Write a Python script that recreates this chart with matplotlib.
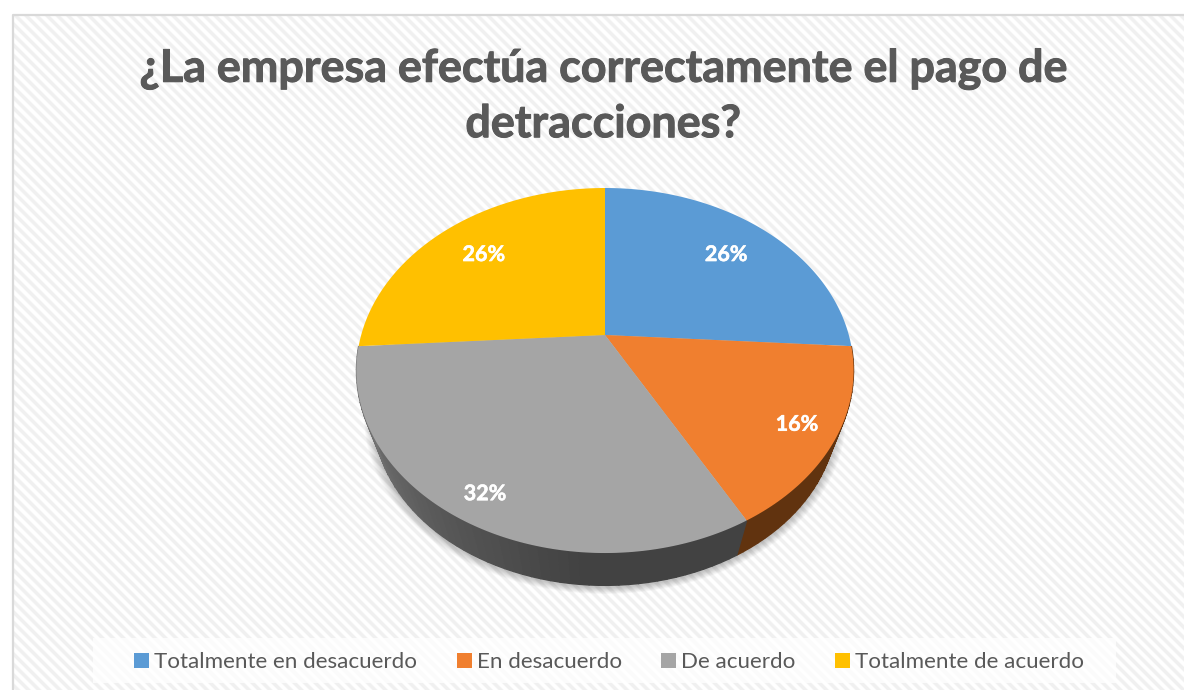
import numpy as np
import matplotlib
matplotlib.use('Agg')
import matplotlib.pyplot as plt
from matplotlib.patches import Patch, Rectangle
import matplotlib.patheffects as pe

categorias = ['Totalmente en desacuerdo', 'En desacuerdo', 'De acuerdo', 'Totalmente de acuerdo']
valores = [26, 16, 32, 26]
etiquetas = ['26%', '16%', '32%', '26%']
colores = ['#5B9BD5', '#F07F2F', '#A5A5A5', '#FFC000']
titulo = '¿La empresa efectúa correctamente el pago de\ndetracciones?'

# distancia de cada etiqueta al centro (fraccion del radio)
radio_etiqueta = [0.75, 0.85, 0.87, 0.75]

W, H = 1184, 690
cx, cy = 605, 335
a, b, k = 243.8, 175.6, 0.1946   # proyeccion del disco
s, yv = 0.93, 1015               # disco inferior

plt.rcParams['font.family'] = ['Lato', 'DejaVu Sans']


def disco(ang, r=1.0):
    # angulo en grados desde arriba, sentido horario
    t = np.radians(ang)
    u, v = r * np.sin(t), r * np.cos(t)
    w = 1 + k * v
    return cx + a * u / w, cy - b * v / w


def disco_abajo(ang):
    x, y = disco(ang)
    return cx + s * (x - cx), yv + s * (y - yv)


fig = plt.figure(figsize=(W / 100, H / 100), dpi=100)
ax = fig.add_axes([0, 0, 1, 1])
ax.set_xlim(0, W)
ax.set_ylim(H, 0)
ax.axis('off')

# fondo rayado
xx, yy = np.meshgrid(np.arange(W), np.arange(H))
rayas = 0.5 + 0.5 * np.cos(2 * np.pi * (xx - yy) / 10.5)
fondo = 1 - 0.06 * np.clip(rayas * 1.6 - 0.3, 0, 1)
fondo = np.where((xx > 13) & (yy > 15), fondo, 1.0)
ax.imshow(fondo, cmap='gray', vmin=0, vmax=1, extent=(0, W, H, 0), zorder=0, aspect='auto')
ax.plot([12.5, 12.5, W], [H, 14.5, 14.5], color='#D9D9D9', lw=1.6, zorder=1)

# sombra
todo = np.linspace(0, 360, 361)
for i in range(10, 0, -1):
    x, y = disco_abajo(todo)
    f = 1 + i * 0.0042
    ax.fill(cx + (x - cx) * f, (y - 416) * f + 416 + 1.5, color='black', alpha=0.022, lw=0, zorder=2)

# pared lateral (solo se ven las porciones 2 y 3) y cara superior
angulos = np.cumsum([0] + valores) * 3.6
for i in [1, 2]:
    ini, fin = angulos[i], angulos[i + 1]
    pasos = np.arange(ini, fin + 1, 2.0)
    pasos[-1] = fin
    for p, q in zip(pasos[:-1], pasos[1:]):
        x1, y1 = disco(np.array([p, q]))
        x2, y2 = disco_abajo(np.array([q, p]))
        if i == 2:
            g = np.interp((p + q) / 2, [151, 185, 210, 240, 266], [0.26, 0.26, 0.33, 0.42, 0.5])
            col = (g, g, g)
        else:
            col = '#61330F'
        ax.fill(np.r_[x1, x2], np.r_[y1, y2], color=col, lw=1, zorder=3)

for i in range(len(valores)):
    arco = np.linspace(angulos[i], angulos[i + 1], 200)
    x, y = disco(arco)
    ax.fill(np.r_[cx, x], np.r_[cy, y], color=colores[i], lw=0, zorder=4)
    medio = (angulos[i] + angulos[i + 1]) / 2
    tx, ty = disco(medio, radio_etiqueta[i])
    ax.text(tx, ty + 1.5, etiquetas[i], color='white', fontsize=15.5, fontweight='bold',
            ha='center', va='center', zorder=5,
            path_effects=[pe.withStroke(linewidth=0.4, foreground='white')])

ax.text(603, 96.5, titulo, color='#595959', fontsize=32.3, fontweight='bold',
        ha='center', va='center', linespacing=1.38, zorder=5,
        path_effects=[pe.withStroke(linewidth=0.7, foreground='#595959')])

# leyenda
ax.add_patch(Rectangle((93, 638), 1023, 45, facecolor='white', alpha=0.75, lw=0, zorder=1.5))
manijas = [Patch(facecolor=c, label=n) for c, n in zip(colores, categorias)]
ax.legend(handles=manijas, ncol=4, frameon=False, loc='center', bbox_to_anchor=(609 / W, 1 - 662 / H),
          fontsize=16.1, labelcolor='#595959', handlelength=0.67, handleheight=0.67,
          handletextpad=0.22, columnspacing=1.76)

fig.savefig('out.png', dpi=100)
